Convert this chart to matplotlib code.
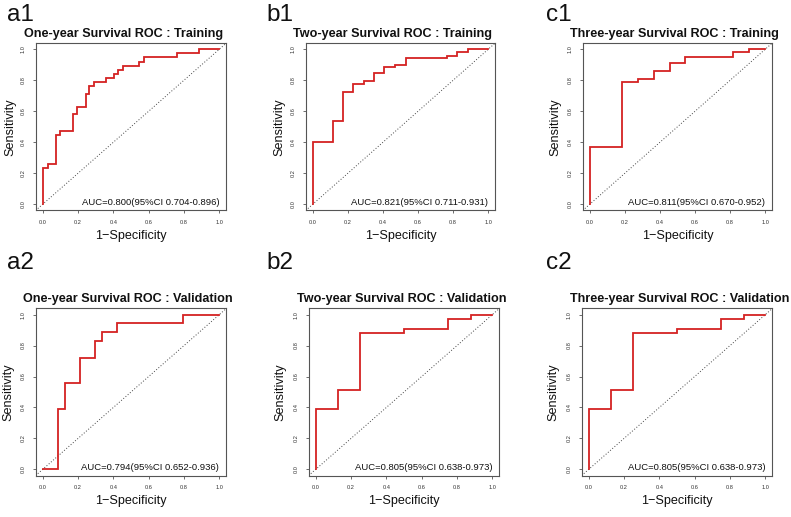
import matplotlib
matplotlib.use("Agg")
import matplotlib.pyplot as plt

plt.rcParams['font.family'] = ['Liberation Sans', 'DejaVu Sans']

# ---------------- data ----------------
panel_labels = ["a1", "b1", "c1", "a2", "b2", "c2"]
titles = [
    "One-year Survival ROC : Training",
    "Two-year Survival ROC : Training",
    "Three-year Survival ROC : Training",
    "One-year Survival ROC : Validation",
    "Two-year Survival ROC : Validation",
    "Three-year Survival ROC : Validation",
]
auc_texts = [
    "AUC=0.800(95%CI 0.704-0.896)",
    "AUC=0.821(95%CI 0.711-0.931)",
    "AUC=0.811(95%CI 0.670-0.952)",
    "AUC=0.794(95%CI 0.652-0.936)",
    "AUC=0.805(95%CI 0.638-0.973)",
    "AUC=0.805(95%CI 0.638-0.973)",
]

fpr_a1 = [0, 0, 0.028, 0.075, 0.098, 0.17, 0.196, 0.243, 0.264, 0.289, 0.358,
          0.406, 0.428, 0.453, 0.547, 0.572, 0.762, 0.883, 1.0]
tpr_a1 = [0, 0.237, 0.263, 0.446, 0.474, 0.58, 0.63, 0.709, 0.763, 0.791, 0.817,
          0.84, 0.869, 0.894, 0.92, 0.948, 0.974, 1.0, 1.0]

fpr_b1 = [0, 0, 0.114, 0.173, 0.231, 0.292, 0.349, 0.406, 0.469, 0.529, 0.767,
          0.824, 0.884, 1.0]
tpr_b1 = [0, 0.399, 0.537, 0.722, 0.774, 0.795, 0.845, 0.884, 0.899, 0.942,
          0.959, 0.981, 1.0, 1.0]

fpr_c1 = [0, 0, 0.182, 0.273, 0.364, 0.455, 0.545, 0.818, 0.909, 1.0]
tpr_c1 = [0, 0.371, 0.791, 0.806, 0.86, 0.909, 0.948, 0.985, 1.0, 1.0]

fpr_a2 = [0, 0.089, 0.128, 0.211, 0.296, 0.336, 0.419, 0.792, 1.0]
tpr_a2 = [0, 0.388, 0.556, 0.722, 0.832, 0.89, 0.944, 1.0, 1.0]

fpr_b2 = [0, 0, 0.125, 0.251, 0.5, 0.751, 0.877, 1.0]
tpr_b2 = [0, 0.388, 0.513, 0.879, 0.905, 0.97, 1.0, 1.0]

fpr_c2 = [0, 0, 0.125, 0.251, 0.5, 0.751, 0.877, 1.0]
tpr_c2 = [0, 0.388, 0.513, 0.879, 0.905, 0.97, 1.0, 1.0]

fprs = [fpr_a1, fpr_b1, fpr_c1, fpr_a2, fpr_b2, fpr_c2]
tprs = [tpr_a1, tpr_b1, tpr_c1, tpr_a2, tpr_b2, tpr_c2]

tick_vals = [0.0, 0.2, 0.4, 0.6, 0.8, 1.0]
tick_labels = ["0.0", "0.2", "0.4", "0.6", "0.8", "1.0"]

# ---------------- layout (pixels) ----------------
W, H = 791, 517
# axes boxes: left, top, right, bottom
boxes = [
    (35.6, 43.0, 226.4, 210.5),
    (305.7, 43.0, 495.3, 210.5),
    (582.7, 43.0, 772.3, 210.5),
    (35.6, 308.4, 226.4, 475.6),
    (308.6, 308.4, 499.4, 475.6),
    (581.6, 308.4, 772.4, 475.6),
]
title_x = [123.3, 392.8, 674.8, 128.0, 401.5, 679.5]
title_y = [33.7, 33.7, 33.7, 299.3, 299.3, 299.3]
label_x = [7, 266, 546, 7, 266, 546]
label_y = [15, 15, 15, 263, 263, 263]
ylab_x = [10, 279, 555.3, 8.3, 280.7, 553.7]
xlab_y = [235.7, 235.7, 235.7, 500.7, 500.7, 500.7]

RED = "#d42222"
FRAME = "#555555"

fig = plt.figure(figsize=(W / 100, H / 100), dpi=100)

for i in range(6):
    l, t, r, b = boxes[i]
    ax = fig.add_axes([l / W, 1 - b / H, (r - l) / W, (b - t) / H])
    ax.set_xlim(-0.04, 1.04)
    ax.set_ylim(-0.04, 1.04)
    ax.axline((0, 0), (1, 1), color="#444444", lw=0.7, ls=(0, (1, 2)))
    ax.plot(fprs[i], tprs[i], drawstyle="steps-post", color=RED, lw=1.3,
            solid_joinstyle="miter")
    ax.text(1.0, 0.012, auc_texts[i], ha="right", va="center", fontsize=6.8,
            color="#111111")
    for s in ax.spines.values():
        s.set_color(FRAME)
        s.set_linewidth(0.8)
    ax.set_xticks(tick_vals)
    ax.set_xticklabels(tick_labels)
    ax.set_yticks(tick_vals)
    ax.set_yticklabels(tick_labels, rotation=90, va="center")
    ax.tick_params(axis="both", length=2.5, width=0.6, color=FRAME,
                   labelsize=4.1, labelcolor="#333333", pad=4.5)
    cx = (l + r) / 2
    cy = (t + b) / 2
    fig.text(title_x[i] / W, 1 - title_y[i] / H, titles[i], ha="center",
             va="center", fontsize=9.1, fontweight="bold", color="#111111")
    fig.text(label_x[i] / W, 1 - label_y[i] / H, panel_labels[i], ha="left",
             va="center", fontsize=17.5, color="#111111")
    fig.text(ylab_x[i] / W, 1 - cy / H, "Sensitivity", ha="center",
             va="center", rotation=90, fontsize=9.1, color="#111111")
    fig.text(cx / W, 1 - xlab_y[i] / H, "1\u2212Specificity", ha="center",
             va="center", fontsize=9.1, color="#111111")

fig.savefig("out.png", dpi=100, facecolor="white")
